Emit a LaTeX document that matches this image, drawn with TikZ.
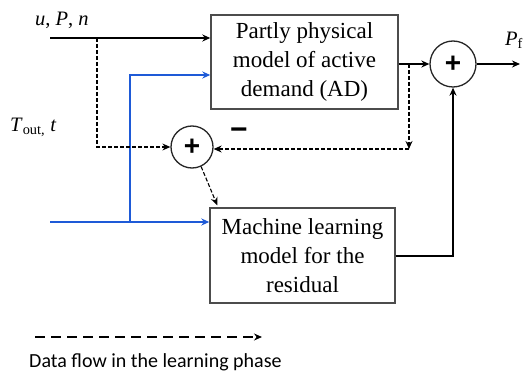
\documentclass[tikz,border=0pt]{standalone}
\usepackage{fontspec}
\setmainfont{Liberation Serif}
\newfontfamily\calib{Carlito}
\newfontfamily\arialf{Liberation Sans}
\usetikzlibrary{arrows.meta,calc}
\definecolor{bl}{RGB}{30,90,215}
\begin{document}
\begin{tikzpicture}[x=1pt,y=-1pt,
  >={Stealth[length=8pt,width=7pt]},
  box/.style={draw=black!70, line width=1.4pt, align=center, inner sep=0pt,
    font=\fontsize{23}{29}\selectfont},
  sumc/.style={circle, draw=black!85, line width=1.3pt, inner sep=0pt,
    font=\arialf\bfseries\fontsize{28}{28}\selectfont},
  sig/.style={line width=2pt},
  blu/.style={line width=2.2pt, draw=bl},
  dsh/.style={line width=1.1pt, dash pattern=on 4pt off 2pt},
  lab/.style={font=\fontsize{20.5}{24}\selectfont, inner sep=0pt}]
\useasboundingbox (0,0) rectangle (529,374);

\node[box, minimum width=187pt, minimum height=94pt] (top) at (304.5,62)
  {Partly physical\\model of active\\demand (AD)};
\node[box, minimum width=185pt, minimum height=95pt] (ml) at (302.5,255.5)
  {Machine learning\\model for the\\residual};
\node[sumc, minimum size=42pt] (s1) at (192,147) {+};
\node[sumc, minimum size=46pt] (s2) at (453,64) {+};

\node[lab, anchor=west] (lu) at (35,20) {\textit{u}, \textit{P}, \textit{n}};
\node[lab, anchor=west] (lt) at (10,127) {\textit{T}\textsubscript{out,} \textit{t}};
\node[lab, anchor=west] (lp) at (505,40) {\textit{P}\textsubscript{f}};
\node[font=\arialf\bfseries\fontsize{30}{30}\selectfont, inner sep=0pt] (mn) at (239,134) {\symbol{"2212}};

\coordinate (in1) at (50,38);
\coordinate (b1) at (97,38);
\coordinate (in2) at (50,222);
\coordinate (b2) at (130,222);
\coordinate (bt) at (130,75);
\coordinate (b3) at (409,64);
\coordinate (c3) at (409,149);
\coordinate (out) at (520,64);

% solid black
\draw[sig,->] (in1) -- (top.west |- in1);
\draw[sig,->] (top.east |- s2) -- (s2.west);
\draw[sig,->] (s2.east) -- (out);
\draw[sig,->] (ml.east) -| (s2.south);

% blue
\draw[blu,->] (in2) -- (ml.west |- in2);
\draw[blu,->] (b2) -- (bt) -- (top.west |- bt);

% dashed learning flow
\draw[dsh,->] (b1) |- (s1.west);
\draw[dsh,->] (b3) -- (c3);
\draw[dsh,->] (c3) -- (s1.east |- c3);
\draw[dsh,->] (s1.-65) -- ($(ml.north west)+(8,-2)$);

% legend
\coordinate (l1) at (35,337);
\coordinate (l2) at (262,337);
\draw[line width=1.6pt, dash pattern=on 10pt off 6pt, ->] (l1) -- (l2);
\node[anchor=west, inner sep=0pt, font=\calib\fontsize{20}{22}\selectfont] (leg) at (29,362)
  {Data flow in the learning phase};
\end{tikzpicture}
\end{document}
